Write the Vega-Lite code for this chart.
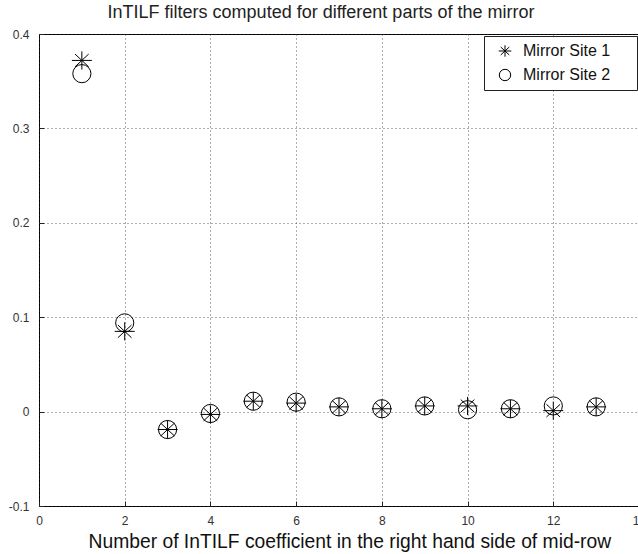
{
  "$schema": "https://vega.github.io/schema/vega-lite/v6.json",
  "width": 600,
  "height": 472,
  "autosize": {"type": "none"},
  "padding": {"left": 39, "top": 34, "right": 0, "bottom": 48},
  "background": "white",
  "title": {
    "text": "InTILF filters computed for different parts of the mirror",
    "font": "Liberation Sans",
    "fontSize": 18,
    "fontWeight": "normal",
    "color": "#222",
    "offset": 6,
    "dx": -18
  },
  "data": {
    "values": [
      {"k": 1, "site": "Mirror Site 1", "value": 0.372},
      {"k": 2, "site": "Mirror Site 1", "value": 0.085},
      {"k": 3, "site": "Mirror Site 1", "value": -0.019},
      {"k": 4, "site": "Mirror Site 1", "value": -0.003},
      {"k": 5, "site": "Mirror Site 1", "value": 0.011},
      {"k": 6, "site": "Mirror Site 1", "value": 0.009},
      {"k": 7, "site": "Mirror Site 1", "value": 0.005},
      {"k": 8, "site": "Mirror Site 1", "value": 0.003},
      {"k": 9, "site": "Mirror Site 1", "value": 0.006},
      {"k": 10, "site": "Mirror Site 1", "value": 0.006},
      {"k": 11, "site": "Mirror Site 1", "value": 0.003},
      {"k": 12, "site": "Mirror Site 1", "value": 0.001},
      {"k": 13, "site": "Mirror Site 1", "value": 0.005},
      {"k": 1, "site": "Mirror Site 2", "value": 0.358},
      {"k": 2, "site": "Mirror Site 2", "value": 0.094},
      {"k": 3, "site": "Mirror Site 2", "value": -0.019},
      {"k": 4, "site": "Mirror Site 2", "value": -0.002},
      {"k": 5, "site": "Mirror Site 2", "value": 0.011},
      {"k": 6, "site": "Mirror Site 2", "value": 0.010},
      {"k": 7, "site": "Mirror Site 2", "value": 0.005},
      {"k": 8, "site": "Mirror Site 2", "value": 0.003},
      {"k": 9, "site": "Mirror Site 2", "value": 0.006},
      {"k": 10, "site": "Mirror Site 2", "value": 0.002},
      {"k": 11, "site": "Mirror Site 2", "value": 0.003},
      {"k": 12, "site": "Mirror Site 2", "value": 0.006},
      {"k": 13, "site": "Mirror Site 2", "value": 0.005}
    ]
  },
  "mark": {"type": "point", "filled": false, "stroke": "black", "strokeWidth": 1, "size": 330, "opacity": 1},
  "encoding": {
    "x": {
      "field": "k",
      "type": "quantitative",
      "scale": {"domain": [0, 14], "nice": false, "zero": false},
      "axis": {
        "values": [0, 2, 4, 6, 8, 10, 12, 14],
        "title": "Number of InTILF coefficient in the right hand side of mid-row",
        "titleAnchor": "start",
        "titleAlign": "left",
        "titleX": 49,
        "titleY": 35,
        "titleBaseline": "middle",
        "titleFont": "Liberation Sans",
        "titleFontSize": 19.3,
        "titleFontWeight": "normal",
        "titleColor": "#111",
        "labelPadding": 14,
        "labelFlush": false
      }
    },
    "y": {
      "field": "value",
      "type": "quantitative",
      "scale": {"domain": [-0.1, 0.4], "nice": false, "zero": false},
      "axis": {
        "values": [-0.1, 0, 0.1, 0.2, 0.3, 0.4],
        "labelExpr": "datum.value + ''",
        "title": null,
        "labelPadding": 15
      }
    },
    "shape": {
      "field": "site",
      "type": "nominal",
      "scale": {
        "domain": ["Mirror Site 1", "Mirror Site 2"],
        "range": ["M-1.1,0H1.1M0,-1V1M-0.75,-0.7L0.75,0.7M-0.75,0.7L0.75,-0.7", "circle"]
      },
      "legend": {
        "title": " ",
        "titleOrient": "right",
        "titlePadding": 20,
        "orient": "top-right",
        "offset": 2,
        "padding": 7,
        "symbolOffset": 6,
        "strokeColor": "#222",
        "fillColor": "white",
        "symbolSize": 130,
        "symbolStrokeColor": "black",
        "symbolStrokeWidth": 1,
        "symbolFillColor": "transparent",
        "labelFont": "Liberation Sans",
        "labelFontSize": 16,
        "labelColor": "#111",
        "labelOffset": 10,
        "rowPadding": 8
      }
    }
  },
  "config": {
    "view": {"stroke": "black", "strokeWidth": 1},
    "axis": {
      "grid": true,
      "gridColor": "#333",
      "gridDash": [1, 3],
      "gridWidth": 1,
      "gridOpacity": 0.8,
      "domain": false,
      "ticks": true,
      "tickColor": "#222",
      "tickSize": -5,
      "labelFont": "Liberation Sans",
      "labelFontSize": 12,
      "labelColor": "#333"
    }
  }
}
